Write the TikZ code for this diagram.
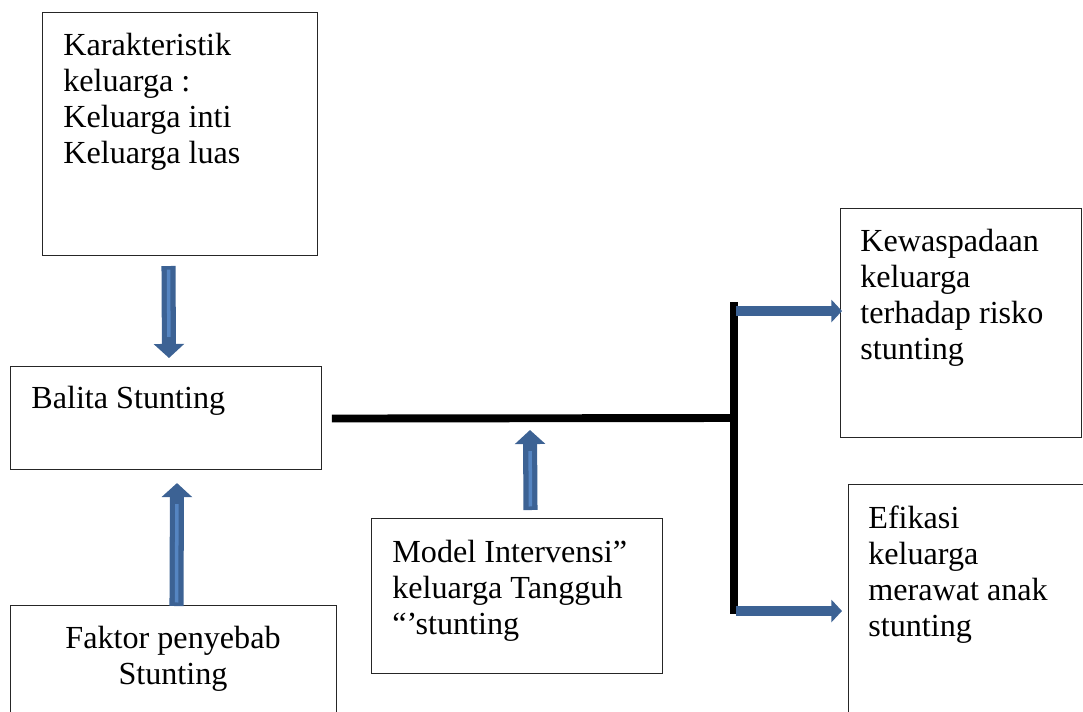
\documentclass[tikz,border=0pt]{standalone}
\usepackage{fontspec}
\setmainfont{Liberation Serif}
\usepackage{xcolor}
\usetikzlibrary{arrows.meta, positioning, calc}
\definecolor{arrowblue}{HTML}{3C6294}
\definecolor{arrowlight}{HTML}{5585C2}

\begin{document}
\begin{tikzpicture}[x=0.02cm, y=-0.02cm, font=\fontsize{18.3}{20.5}\selectfont]
		\tikzset{
			box/.style={draw=black!85, line width=0.6pt, inner sep=0pt, anchor=north west},
			txt/.style={inner sep=0pt, anchor=north west, align=left},
			blockarr/.style={draw=arrowblue, line width=8pt, -{Triangle[width=17pt, length=8pt]},
				postaction={draw=arrowlight, line width=2pt, arrows=-, shorten <=2pt, shorten >=12pt}},
			sidearr/.style={draw=arrowblue, line width=5.4pt, -{Triangle[width=12.5pt, length=6pt]}},
			bar/.style={draw=black, line width=4.5pt}
		}
		\clip (0,0) rectangle (1083,711);
		\node[box, minimum width=5.5cm, minimum height=4.86cm] (kar) at (42,12) {};
		\node[box, minimum width=6.22cm, minimum height=2.06cm] (bal) at (10,366) {};
		\node[box, minimum width=6.52cm, minimum height=2.6cm] (fak) at (10,605) {};
		\node[box, minimum width=5.82cm, minimum height=3.1cm] (mod) at (371,518) {};
		\node[box, minimum width=4.82cm, minimum height=4.58cm] (kew) at (840,208) {};
		\node[box, minimum width=5cm, minimum height=5cm] (efi) at (848,484) {};
		
		\node[txt] (kar-t) at (63,33) {Karakteristik\\keluarga :\\Keluarga inti\\Keluarga luas};
		\node[txt] (bal-t) at (31,386) {Balita Stunting};
		\node[txt, anchor=north, align=center] (fak-t) at (173,626) {Faktor penyebab\\Stunting};
		\node[txt] (mod-t) at (392,540) {Model Intervensi”\\keluarga Tangguh\\“’stunting};
		\node[txt] (kew-t) at (860,229) {Kewaspadaan\\keluarga\\terhadap risko\\stunting};
		\node[txt] (efi-t) at (868,505) {Efikasi\\keluarga\\merawat anak\\stunting};
		
		\coordinate (junc) at (734,418);
		\coordinate (top) at (734,302);
		\coordinate (bot) at (734,614);
		\draw[bar] ($(bal.east)+(10,0.5)$) -- (junc);
		\draw[bar] (top) -- (bot);
		
		\draw[blockarr] ($(kar.south)+(-11.5,10)$) -- ($(bal.north)+(3,-8)$);
		\draw[blockarr] ($(fak.north)+(3,1)$) -- ($(bal.south)+(11,13)$);
		\draw[blockarr] ($(mod.north)+(13.5,-8)$) -- ($(junc)+(-204,12)$);
		\draw[sidearr] ($(top)+(2,9)$) -- ($(top-|kew.west)+(2,9)$);
		\draw[sidearr] ($(bot)+(2,-3)$) -- ($(bot-|kew.west)+(2,-3)$);
	\end{tikzpicture}
\end{document}
